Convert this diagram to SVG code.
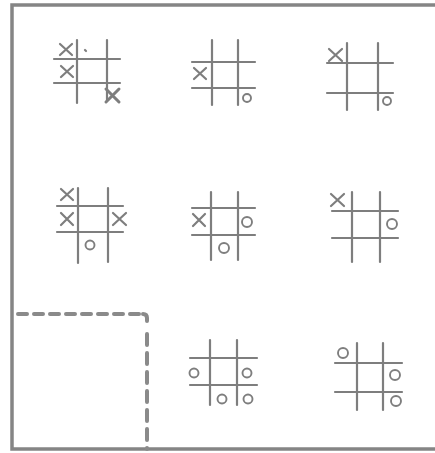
<svg xmlns="http://www.w3.org/2000/svg" width="435" height="453" viewBox="0 0 435 453">
<style>
.frame{fill:none;stroke:#858585;stroke-width:3.5;stroke-linecap:square}
.dash{fill:none;stroke:#8a8a8a;stroke-width:4;stroke-linecap:round}
.g line,.g path{stroke:#7e7e7e;stroke-width:2.2;fill:none;stroke-linecap:round}
.g circle{stroke:#7e7e7e;stroke-width:1.9;fill:none}
.bold{stroke-width:3 !important}
</style>
<rect width="435" height="453" fill="#ffffff"/>
<g id="frame">
<path class="frame" d="M436 5 H12 V449 H436"/>
<path class="dash" stroke-dasharray="9 7" d="M18 314 H143"/>
<path class="dash" d="M143 314 Q147 314 147 318 V321"/>
<path class="dash" stroke-dasharray="11 8" d="M147 334 V449"/>
</g>
<g id="board1" class="g">
<line x1="77" y1="40" x2="77" y2="103"/><line x1="107" y1="40" x2="107" y2="100"/>
<line x1="54" y1="59" x2="120" y2="59"/><line x1="54" y1="83" x2="120" y2="83"/>
<path d="M60 44 L72 55 M72 44 L60 55"/>
<path d="M61 66 L73 77 M73 66 L61 77"/>
<path class="bold" d="M106 89 L119 102 M119 89 L106 102"/>
<line x1="85" y1="50" x2="86" y2="51"/>
</g>
<g id="board2" class="g">
<line x1="212" y1="40" x2="212" y2="105"/><line x1="238" y1="40" x2="238" y2="105"/>
<line x1="192" y1="62" x2="255" y2="62"/><line x1="192" y1="88" x2="255" y2="88"/>
<path d="M194 68 L206 79 M206 68 L194 79"/>
<circle cx="247" cy="98" r="4"/>
</g>
<g id="board3" class="g">
<line x1="347" y1="43" x2="347" y2="110"/><line x1="378" y1="43" x2="378" y2="110"/>
<line x1="327" y1="63" x2="393" y2="63"/><line x1="327" y1="93" x2="393" y2="93"/>
<path d="M329 49 L342 61 M342 49 L329 61"/>
<circle cx="387" cy="101" r="4"/>
</g>
<g id="board4" class="g">
<line x1="78" y1="188" x2="78" y2="263"/><line x1="108" y1="188" x2="108" y2="262"/>
<line x1="57" y1="206" x2="123" y2="206"/><line x1="57" y1="232" x2="123" y2="232"/>
<path d="M61 189 L73 200 M73 189 L61 200"/>
<path d="M61 213 L73 225 M73 213 L61 225"/>
<path d="M113 213 L126 225 M126 213 L113 225"/>
<circle cx="90" cy="245" r="4.5"/>
</g>
<g id="board5" class="g">
<line x1="211" y1="192" x2="211" y2="260"/><line x1="238" y1="192" x2="238" y2="260"/>
<line x1="192" y1="208" x2="255" y2="208"/><line x1="192" y1="235" x2="255" y2="235"/>
<path d="M193 214 L205 226 M205 214 L193 226"/>
<circle cx="247" cy="222" r="5"/>
<circle cx="224" cy="248" r="5"/>
</g>
<g id="board6" class="g">
<line x1="352" y1="192" x2="352" y2="262"/><line x1="380" y1="192" x2="380" y2="262"/>
<line x1="332" y1="211" x2="398" y2="211"/><line x1="332" y1="238" x2="398" y2="238"/>
<path d="M331 194 L344 206 M344 194 L331 206"/>
<circle cx="392" cy="224" r="5"/>
</g>
<g id="board7" class="g">
<line x1="210" y1="340" x2="210" y2="405"/><line x1="237" y1="340" x2="237" y2="405"/>
<line x1="190" y1="358" x2="257" y2="358"/><line x1="190" y1="385" x2="257" y2="385"/>
<circle cx="194" cy="373" r="4.5"/>
<circle cx="247" cy="373" r="4.5"/>
<circle cx="222" cy="399" r="4.5"/>
<circle cx="248" cy="399" r="4.5"/>
</g>
<g id="board8" class="g">
<line x1="357" y1="343" x2="357" y2="410"/><line x1="383" y1="343" x2="383" y2="410"/>
<line x1="335" y1="363" x2="402" y2="363"/><line x1="335" y1="392" x2="402" y2="392"/>
<circle cx="343" cy="353" r="5"/>
<circle cx="395" cy="375" r="5"/>
<circle cx="396" cy="401" r="5"/>
</g>
</svg>
